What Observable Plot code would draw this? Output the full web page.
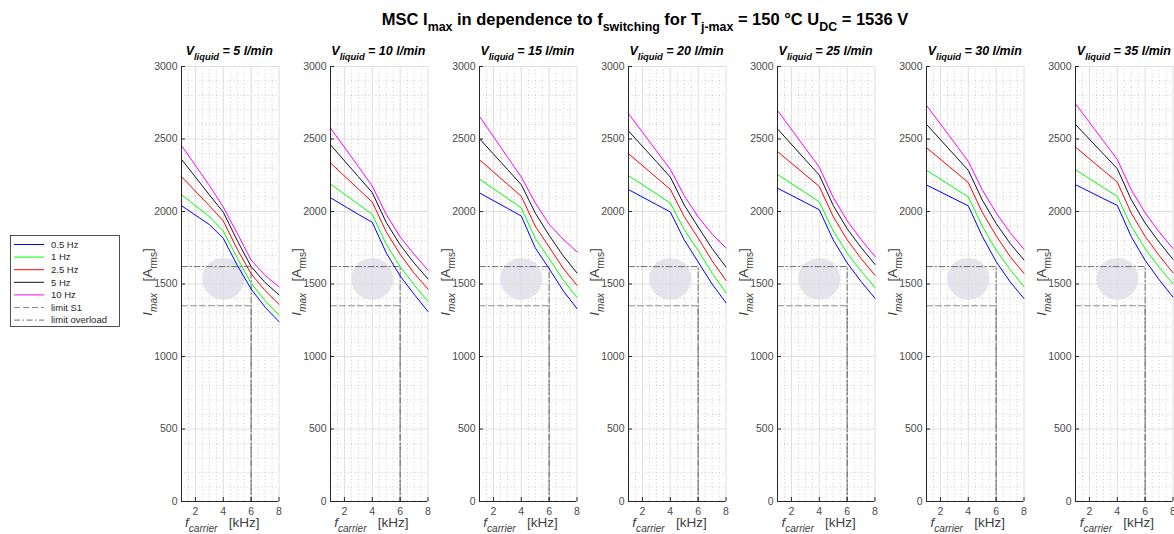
<!DOCTYPE html>
<html>
<head>
<meta charset="utf-8">
<script src="https://cdn.jsdelivr.net/npm/d3@7"></script>
<script src="https://cdn.jsdelivr.net/npm/@observablehq/plot@0.6"></script>
<style>
html,body{margin:0;padding:0;background:#fff;}
#root{position:relative;width:1174px;height:534px;overflow:hidden;font-family:"Liberation Sans",Arial,sans-serif;color:#262626;background:#fff;}
.abs{position:absolute;white-space:nowrap;line-height:1;}
.title{font-weight:bold;font-size:16.5px;color:#000;transform:translateX(-50%);}
.ptitle{font-weight:bold;font-style:italic;font-size:12.5px;color:#000;transform:translateX(-50%);}
.xlab{font-size:13.5px;color:#404040;transform:translateX(-50%);}
.ylab{font-size:13.5px;color:#404040;transform:translate(-50%,-50%) rotate(-90deg);}
sub{font-size:0.75em;vertical-align:-0.5em;line-height:0;}
.panel{position:absolute;}
.legend{position:absolute;}
</style>
</head>
<body>
<div id="root"></div>
<script>
// ---------------- data ----------------
const flows = [5, 10, 15, 20, 25, 30, 35];           // l/min
const freqs = [1, 3, 4, 5, 6, 7, 8];                  // kHz
const seriesNames = ["0.5 Hz", "1 Hz", "2.5 Hz", "5 Hz", "10 Hz"];
const seriesColors = ["#0000ff", "#00ff00", "#ff0000", "#10102e", "#ff00ff"];
const yTicks = [0, 500, 1000, 1500, 2000, 2500, 3000];
const xTicks = [2, 4, 6, 8];
const limitS1 = 1350;        // A rms
const limitOverload = 1620;  // A rms
const limitFreq = 6;         // kHz

// rows: 0.5 Hz, 1 Hz, 2.5 Hz, 5 Hz, 10 Hz ; columns follow freqs
const imax_5 = [
  [2040, 1910, 1815, 1630, 1465, 1340, 1240],
  [2115, 1965, 1865, 1680, 1505, 1385, 1285],
  [2240, 2040, 1935, 1740, 1570, 1455, 1360],
  [2360, 2115, 1995, 1800, 1620, 1510, 1425],
  [2455, 2180, 2030, 1850, 1665, 1560, 1480]
];
const imax_10 = [
  [2095, 1980, 1925, 1715, 1555, 1430, 1310],
  [2190, 2050, 1980, 1775, 1620, 1495, 1380],
  [2335, 2155, 2065, 1860, 1705, 1575, 1465],
  [2460, 2240, 2130, 1925, 1770, 1645, 1535],
  [2575, 2310, 2175, 1980, 1825, 1705, 1595]
];
const imax_15 = [
  [2128, 2022, 1969, 1750, 1606, 1455, 1330],
  [2224, 2091, 2024, 1815, 1675, 1530, 1406],
  [2357, 2189, 2105, 1900, 1755, 1610, 1491],
  [2502, 2291, 2185, 1990, 1836, 1695, 1576],
  [2656, 2377, 2238, 2060, 1911, 1810, 1721]
];
const imax_20 = [
  [2151, 2048, 1997, 1805, 1652, 1500, 1370],
  [2247, 2122, 2059, 1875, 1732, 1575, 1440],
  [2399, 2235, 2153, 1965, 1817, 1660, 1525],
  [2555, 2344, 2238, 2045, 1893, 1745, 1617],
  [2675, 2419, 2291, 2110, 1962, 1845, 1748]
];
const imax_25 = [
  [2161, 2062, 2012, 1804, 1645, 1517, 1401],
  [2256, 2130, 2067, 1866, 1713, 1589, 1477],
  [2414, 2253, 2173, 1965, 1805, 1676, 1560],
  [2570, 2357, 2251, 2042, 1881, 1752, 1635],
  [2697, 2436, 2306, 2097, 1936, 1807, 1690]
];
const imax_30 = [
  [2183, 2087, 2039, 1830, 1654, 1515, 1400],
  [2284, 2162, 2101, 1900, 1734, 1600, 1482],
  [2440, 2280, 2200, 1995, 1833, 1690, 1573],
  [2601, 2390, 2284, 2080, 1917, 1780, 1665],
  [2732, 2475, 2346, 2150, 1991, 1855, 1739]
];
const imax_35 = [
  [2185, 2089, 2042, 1827, 1663, 1530, 1410],
  [2288, 2165, 2104, 1899, 1743, 1616, 1502],
  [2444, 2283, 2203, 1990, 1828, 1697, 1578],
  [2600, 2397, 2295, 2082, 1920, 1789, 1670],
  [2743, 2487, 2359, 2150, 1990, 1860, 1744]
];
const imaxByFlow = [imax_5, imax_10, imax_15, imax_20, imax_25, imax_30, imax_35];

// ---------------- layout ----------------
const root = document.getElementById("root");
const axisLeft0 = 180.5, panelStep = 149.1, mL = 40, plotW = 97.5;
const svgTop = 56, mT = 10, mB = 41, H = 486;
const minorX = d3.range(1.5, 8, 0.5).filter(v => v % 2 !== 0);
const minorY = d3.range(100, 3000, 100).filter(v => v % 500 !== 0);

function add(html, cls, left, top) {
  const d = document.createElement("div");
  d.className = "abs " + cls;
  d.style.left = left + "px";
  d.style.top = top + "px";
  d.innerHTML = html;
  root.appendChild(d);
  return d;
}

add("MSC I<sub>max</sub> in dependence to f<sub>switching</sub> for T<sub>j-max</sub> = 150 °C U<sub>DC</sub> = 1536 V",
    "title", 645, 11);

flows.forEach((flow, k) => {
  const rows = [];
  imaxByFlow[k].forEach((vals, s) => vals.forEach((v, j) =>
    rows.push({series: seriesNames[s], f: freqs[j], i: v})));
  const s1 = [{f: freqs[0], i: limitS1}, {f: limitFreq, i: limitS1}, {f: limitFreq, i: 0}];
  const ov = [{f: freqs[0], i: limitOverload}, {f: limitFreq, i: limitOverload}, {f: limitFreq, i: 0}];

  const chart = Plot.plot({
    width: mL + plotW + 11.5, height: H,
    marginLeft: mL, marginRight: 11.5, marginTop: mT, marginBottom: mB,
    style: {fontFamily: "Liberation Sans, Arial, sans-serif", fontSize: "10.5px", color: "#4a4a4a", background: "transparent", overflow: "visible"},
    x: {domain: [1, 8], label: null},
    y: {domain: [0, 3000], label: null},
    color: {domain: seriesNames, range: seriesColors},
    marks: [
      Plot.gridY(minorY, {stroke: "#cccccc", strokeOpacity: 1, strokeDasharray: "1,2.5"}),
      Plot.gridX(minorX, {stroke: "#cccccc", strokeOpacity: 1, strokeDasharray: "1,2.5"}),
      Plot.gridY(yTicks, {stroke: "#dedede", strokeOpacity: 1}),
      Plot.gridX(xTicks, {stroke: "#dedede", strokeOpacity: 1}),
      Plot.dot([{f: 4.0, i: 1535}], {x: "f", y: "i", r: 21, fill: "#dfdde9", fillOpacity: 0.8, stroke: "none"}),
      Plot.line(s1, {x: "f", y: "i", stroke: "#8a8a8a", strokeWidth: 1, strokeDasharray: "6,3"}),
      Plot.line(ov, {x: "f", y: "i", stroke: "#6e6e6e", strokeWidth: 1, strokeDasharray: "6,2.5,1.5,2.5"}),
      Plot.line(rows, {x: "f", y: "i", z: "series", stroke: "series", strokeWidth: 1}),
      Plot.ruleX([1], {stroke: "#262626"}),
      Plot.ruleY([0], {stroke: "#262626"}),
      Plot.axisY(yTicks, {tickSize: -4, tickPadding: 8, stroke: "#262626", tickFormat: d => String(d), label: null}),
      Plot.axisX(xTicks, {tickSize: -4, tickPadding: 10, stroke: "#262626", tickFormat: d => String(d), label: null})
    ]
  });
  const left = axisLeft0 + panelStep * k;
  chart.classList.add("panel");
  chart.style.left = (left - mL) + "px";
  chart.style.top = svgTop + "px";
  root.appendChild(chart);

  const cx = left + plotW / 2;
  add("V<sub>liquid</sub> = " + flow + " l/min", "ptitle", cx, 45);
  add("<i>f<sub>carrier</sub></i>&nbsp;&nbsp; [kHz]", "xlab", cx - 7, 516);
  add("<i>I<sub>max</sub></i>&nbsp;&nbsp; [A<sub>rms</sub>]", "ylab", left - 33, 282);
});

// ---------------- legend ----------------
const legItems = seriesNames.map((n, i) => ({name: n, color: seriesColors[i], dash: null}))
  .concat([{name: "limit S1", color: "#8a8a8a", dash: "6,3"},
           {name: "limit overload", color: "#6e6e6e", dash: "6,2.5,1.5,2.5"}]);
const leg = d3.create("svg").attr("width", 112).attr("height", 94)
  .attr("class", "legend").style("left", "9px").style("top", "234px");
leg.append("rect").attr("x", 1.5).attr("y", 1.5).attr("width", 109).attr("height", 91)
  .attr("fill", "#fff").attr("stroke", "#262626").attr("stroke-width", 0.8);
legItems.forEach((it, i) => {
  const y = 10.5 + i * 12.6;
  leg.append("line").attr("x1", 5).attr("x2", 35).attr("y1", y).attr("y2", y)
    .attr("stroke", it.color).attr("stroke-width", 1)
    .attr("stroke-dasharray", it.dash);
  leg.append("text").attr("x", 42).attr("y", y + 3.3).text(it.name)
    .attr("font-family", "Liberation Sans, Arial, sans-serif").attr("font-size", 9.5).attr("fill", "#262626");
});
root.appendChild(leg.node());
</script>
</body>
</html>
